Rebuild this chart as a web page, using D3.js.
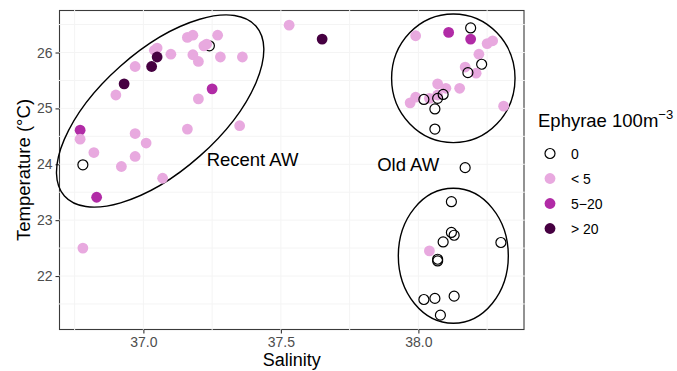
<!DOCTYPE html>
<html>
<head>
<meta charset="utf-8">
<script src="https://cdn.jsdelivr.net/npm/d3@7"></script>
<style>
  html, body { margin: 0; padding: 0; background: #ffffff; }
  svg { display: block; }
  text { font-family: "Liberation Sans", Arial, sans-serif; }
</style>
</head>
<body>
<svg id="chart" width="677" height="371"></svg>
<script>
// Station observations: surface salinity, temperature (°C) and ephyrae density class
const salinity = [
  37.24, 37.53, 37.16, 37.18, 37.27, 37.22, 37.23, 37.28, 37.36, 37.18,
  37.20, 37.10, 37.04, 37.05, 37.05, 37.03, 36.97, 36.93, 36.90, 37.25,
  37.20, 37.35, 37.16, 36.78, 36.77, 36.77, 36.97, 37.01, 36.82, 36.97,
  36.92, 37.07, 36.83, 36.78, 37.65,
  37.99, 38.11, 38.19, 38.19, 38.25, 38.27, 38.22, 38.23, 38.17, 38.21,
  38.18, 38.07, 38.10, 38.15, 37.97, 37.99, 38.04, 38.02, 38.07, 38.09,
  38.07, 38.06, 38.06, 38.31, 38.17,
  38.12, 38.12, 38.13, 38.09, 38.30, 38.04, 38.07, 38.07, 38.02, 38.06,
  38.13, 38.08
];
const temperature = [
  26.12, 26.49, 26.27, 26.31, 26.31, 26.12, 26.15, 25.92, 25.92, 25.96,
  25.84, 25.97, 26.04, 26.08, 25.92, 25.75, 25.75, 25.44, 25.24, 25.35,
  25.17, 24.69, 24.63, 23.99, 24.61, 24.45, 24.55, 24.38, 24.21, 24.14,
  23.96, 23.75, 23.41, 22.50, 26.24,
  26.30, 26.36, 26.44, 26.24, 26.16, 26.21, 25.97, 25.79, 25.74, 25.63,
  25.64, 25.44, 25.36, 25.36, 25.10, 25.20, 25.18, 25.16, 25.24, 25.25,
  25.18, 24.99, 24.63, 25.04, 23.94,
  23.33, 22.78, 22.73, 22.61, 22.60, 22.45, 22.27, 22.30, 21.58, 21.60,
  21.64, 21.30
];
const ephyrae = [
  "0", "< 5", "< 5", "< 5", "< 5", "< 5", "< 5", "< 5", "< 5", "< 5",
  "< 5", "< 5", "< 5", "< 5", "> 20", "> 20", "< 5", "> 20", "< 5", "5\u221220",
  "< 5", "< 5", "< 5", "0", "5\u221220", "< 5", "< 5", "< 5", "< 5", "< 5",
  "< 5", "< 5", "5\u221220", "< 5", "> 20",
  "< 5", "5\u221220", "0", "5\u221220", "< 5", "< 5", "< 5", "0", "< 5", "< 5",
  "0", "< 5", "< 5", "< 5", "< 5", "< 5", "< 5", "0", "< 5", "0",
  "0", "0", "0", "< 5", "0",
  "0", "0", "0", "0", "0", "< 5", "0", "0", "0", "0",
  "0", "0"
];

// Legend classes and their fills
const classes = ["0", "< 5", "5\u221220", "> 20"];
const classFill = ["none", "#e8a9df", "#b12ba6", "#460041"];

// Axis ticks and grid positions
const xTicks = [37.0, 37.5, 38.0];
const yTicks = [22, 23, 24, 25, 26];
const xMinor = [36.75, 37.25, 37.75, 38.25];
const yMinor = [21.5, 22.5, 23.5, 24.5, 25.5, 26.5];

// Water-mass group labels (anchored in data units)
const groupLabels = ["Recent AW", "Old AW"];
const groupLabelPos = [[37.23, 23.97], [37.85, 23.88]];

const svg = d3.select("#chart");
const panel = { left: 59.5, right: 524, top: 10.5, bottom: 329.5 };

const x = d3.scaleLinear().domain([36.695, 38.384]).range([panel.left, panel.right]);
const y = d3.scaleLinear().domain([21.043, 26.752]).range([panel.bottom, panel.top]);

// Panel border
svg.append("rect")
  .attr("x", panel.left).attr("y", panel.top)
  .attr("width", panel.right - panel.left).attr("height", panel.bottom - panel.top)
  .attr("fill", "none").attr("stroke", "#3a3a3a").attr("stroke-width", 1.1);

// Grid lines (drawn over the border, as in the plot theme)
const grid = svg.append("g").attr("stroke", "#f4f4f4").attr("stroke-width", 1);
[...xTicks, ...xMinor].forEach(v => {
  grid.append("line").attr("x1", x(v)).attr("x2", x(v))
    .attr("y1", panel.top - 0.8).attr("y2", panel.bottom + 0.8);
});
[...yTicks, ...yMinor].forEach(v => {
  grid.append("line").attr("y1", y(v)).attr("y2", y(v))
    .attr("x1", panel.left - 0.8).attr("x2", panel.right + 0.8);
});

// Axes
const xAxis = svg.append("g")
  .attr("transform", `translate(0,${panel.bottom})`)
  .call(d3.axisBottom(x).tickValues(xTicks).tickFormat(d3.format(".1f")).tickSize(4).tickPadding(3.5));
const yAxis = svg.append("g")
  .attr("transform", `translate(${panel.left},0)`)
  .call(d3.axisLeft(y).tickValues(yTicks).tickFormat(d3.format("d")).tickSize(4).tickPadding(3));
[xAxis, yAxis].forEach(a => {
  a.select(".domain").remove();
  a.selectAll(".tick line").attr("stroke", "#333333").attr("stroke-width", 1.1);
  a.selectAll(".tick text").attr("fill", "#4d4d4d").style("font-size", "14px")
    .style("font-family", "'Liberation Sans', Arial, sans-serif");
});

// Water-mass ellipses
const ell = svg.append("g").attr("fill", "none").attr("stroke", "#000").attr("stroke-width", 1.4);
// Recent AW: tilted along the salinity-temperature trend
ell.append("ellipse")
  .attr("transform", `translate(${x(37.061)},${y(24.953)}) rotate(-41.6)`)
  .attr("rx", 128).attr("ry", 60);
// Old AW, warm and cool clusters
[[38.127, 25.538, 0.2244, 1.151], [38.127, 22.362, 0.2, 1.208]].forEach(([cx, cy, rs, rt]) => {
  ell.append("ellipse")
    .attr("cx", x(cx)).attr("cy", y(cy))
    .attr("rx", x(cx + rs) - x(cx)).attr("ry", y(cy) - y(cy + rt));
});

// Points
const fillOf = c => classFill[classes.indexOf(c)];
svg.append("g").selectAll("circle")
  .data(salinity.map((s, i) => ({ s, t: temperature[i], c: ephyrae[i] })))
  .join("circle")
  .attr("cx", d => x(d.s)).attr("cy", d => y(d.t))
  .attr("r", d => d.c === "0" ? 5 : 5.4)
  .attr("fill", d => fillOf(d.c))
  .attr("stroke", d => d.c === "0" ? "#000" : "none")
  .attr("stroke-width", 1.2);

// Group labels
svg.append("g").selectAll("text")
  .data(groupLabels)
  .join("text")
  .attr("x", (d, i) => x(groupLabelPos[i][0]))
  .attr("y", (d, i) => y(groupLabelPos[i][1]))
  .attr("fill", "#000").style("font-size", "18.5px")
  .text(d => d);

// Axis titles
svg.append("text")
  .attr("x", (panel.left + panel.right) / 2).attr("y", 366)
  .attr("text-anchor", "middle").style("font-size", "18px").attr("fill", "#000")
  .text("Salinity");
svg.append("text")
  .attr("transform", `translate(30,${(panel.top + panel.bottom) / 2}) rotate(-90)`)
  .attr("text-anchor", "middle").style("font-size", "18.5px").attr("fill", "#000")
  .text("Temperature (°C)");

// Legend
const legend = svg.append("g");
const title = legend.append("text").attr("x", 538).attr("y", 127)
  .style("font-size", "18.5px").attr("fill", "#000");
title.append("tspan").text("Ephyrae 100m");
title.append("tspan").attr("dy", -8).style("font-size", "13px").text("\u22123");

classes.forEach((c, i) => {
  const cy = 153.5 + i * 25;
  legend.append("circle")
    .attr("cx", 550).attr("cy", cy)
    .attr("r", c === "0" ? 5 : 5.4)
    .attr("fill", classFill[i])
    .attr("stroke", c === "0" ? "#000" : "none")
    .attr("stroke-width", 1.2);
  legend.append("text")
    .attr("x", 571).attr("y", cy + 5)
    .style("font-size", "14px").attr("fill", "#000")
    .text(c);
});
</script>
</body>
</html>
